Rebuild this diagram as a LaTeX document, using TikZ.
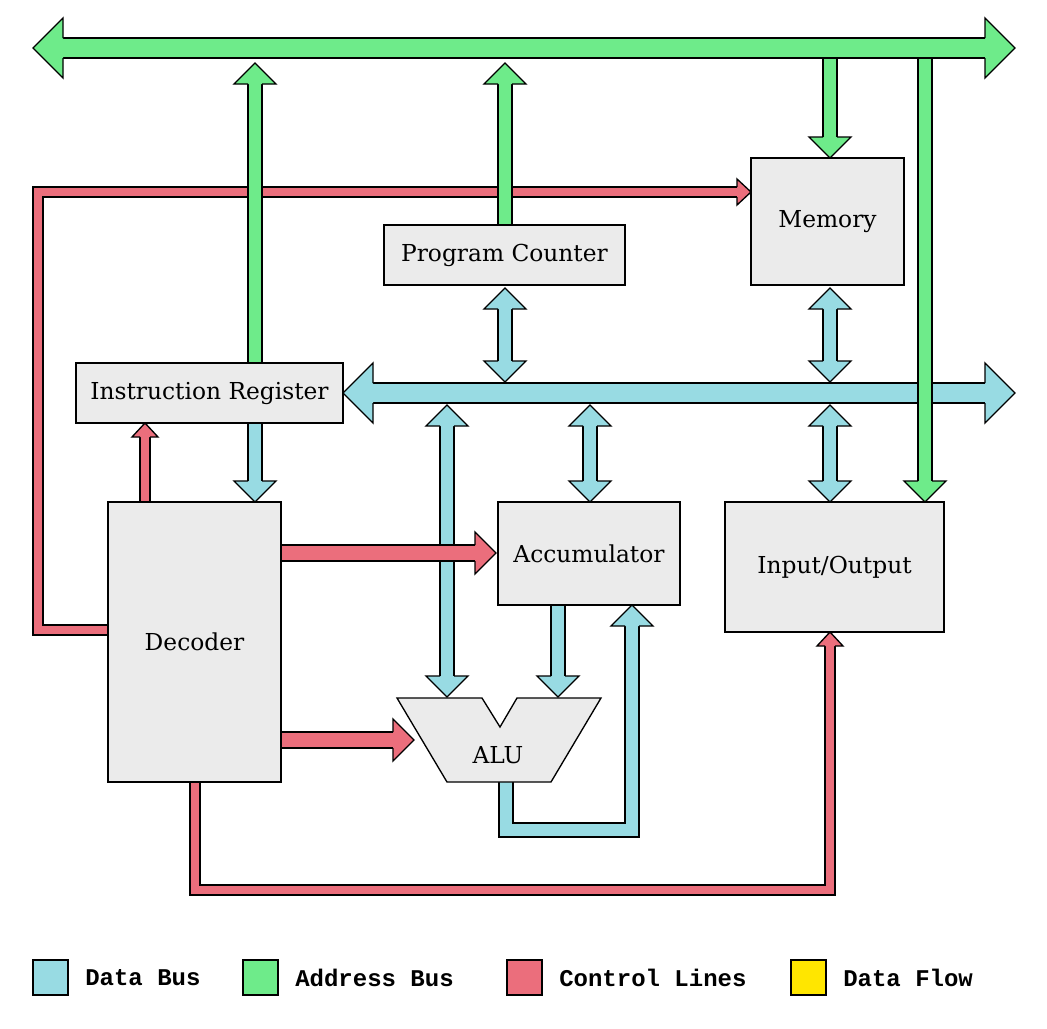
\documentclass[tikz,border=0pt]{standalone}
\usepackage{fontspec}
\setmainfont{DejaVu Serif}
\newfontfamily\legendfont{Liberation Mono}
\definecolor{gr}{HTML}{6EEB8A}
\definecolor{bl}{HTML}{98DBE3}
\definecolor{rd}{HTML}{EB6E7C}
\definecolor{gy}{HTML}{EBEBEB}
\definecolor{yl}{HTML}{FFE600}
\newcommand\shaft[3]{%
  \draw[line width={2*#2*0.75pt+1pt},black,line cap=rect,line join=miter] #3;
  \draw[line width={2*#2*0.75pt-1pt},#1,line cap=rect,line join=miter] #3;}
\newcommand\head[7]{% col, tipx, tipy, angle, w, h, L
  \begin{scope}[shift={(#2,#3)},rotate=#4]
  \fill[#1] (0,0)--(-#7,#6)--(-#7,-#6)--cycle;
  \draw[line width=1pt,line join=miter] (-#7,#5)--(-#7,#6)--(0,0)--(-#7,-#6)--(-#7,-#5);
  \end{scope}}
\tikzset{lbl/.style={font={\fontsize{17.5}{20}\selectfont}}}
\newcommand\boxnode[6]{%
  \node[draw,line width=1pt,fill=gy,inner sep=0pt,lbl,
    minimum width={(#4-#2)*0.75pt},minimum height={(#5-#3)*0.75pt}]
    (#1) at ({(#2+#4)/2},{(#3+#5)/2}) {#6};}
\begin{document}
\begin{tikzpicture}[x=0.75pt,y=-0.75pt]
\useasboundingbox[fill=white] (0,0) rectangle (1047,1029);
% red to memory
\shaft{rd}{5}{(108,630)--(38,630)--(38,192)--(737,192)}
\head{rd}{751}{192}{0}{5}{13}{14}
% green up from IR and PC
\shaft{gr}{7}{(255,363)--(255,84)}
\head{gr}{255}{63}{90}{7}{21}{21}
\shaft{gr}{7}{(505,225)--(505,84)}
\head{gr}{505}{63}{90}{7}{21}{21}
% blue bus
\shaft{bl}{10}{(373,393)--(985,393)}
\head{bl}{343}{393}{180}{10}{30}{30}
\head{bl}{1015}{393}{0}{10}{30}{30}
% green down to IO and memory
\shaft{gr}{7}{(925,48)--(925,481)}
\head{gr}{925}{502}{270}{7}{21}{21}
\shaft{gr}{7}{(830,48)--(830,137)}
\head{gr}{830}{158}{270}{7}{21}{21}
% top address bus
\shaft{gr}{10}{(63,48)--(985,48)}
\head{gr}{33}{48}{180}{10}{30}{30}
\head{gr}{1015}{48}{0}{10}{30}{30}
% blue double verticals
\shaft{bl}{7}{(505,309)--(505,361)}
\head{bl}{505}{288}{90}{7}{21}{21}
\head{bl}{505}{382}{270}{7}{21}{21}
\shaft{bl}{7}{(830,309)--(830,361)}
\head{bl}{830}{288}{90}{7}{21}{21}
\head{bl}{830}{382}{270}{7}{21}{21}
\shaft{bl}{7}{(447,426)--(447,676)}
\head{bl}{447}{405}{90}{7}{21}{21}
\head{bl}{447}{697}{270}{7}{21}{21}
\shaft{bl}{7}{(590,426)--(590,481)}
\head{bl}{590}{405}{90}{7}{21}{21}
\head{bl}{590}{502}{270}{7}{21}{21}
\shaft{bl}{7}{(830,426)--(830,481)}
\head{bl}{830}{405}{90}{7}{21}{21}
\head{bl}{830}{502}{270}{7}{21}{21}
% IR to decoder
\shaft{bl}{7}{(255,423)--(255,481)}
\head{bl}{255}{502}{270}{7}{21}{21}
% decoder to IR
\shaft{rd}{5}{(145,502)--(145,437)}
\head{rd}{145}{423}{90}{5}{13}{14}
% decoder to acc / alu
\shaft{rd}{8}{(281,553)--(475,553)}
\head{rd}{496}{553}{0}{8}{21}{21}
\shaft{rd}{8}{(281,740)--(393,740)}
\head{rd}{414}{740}{0}{8}{21}{21}
% acc to alu
\shaft{bl}{7}{(558,605)--(558,676)}
\head{bl}{558}{697}{270}{7}{21}{21}
% alu to acc
\shaft{bl}{7}{(506,782)--(506,830)--(632,830)--(632,626)}
\head{bl}{632}{605}{90}{7}{21}{21}
% decoder to IO
\shaft{rd}{5}{(195,782)--(195,890)--(830,890)--(830,646)}
\head{rd}{830}{632}{90}{5}{13}{14}
% nodes
\boxnode{mem}{751}{158}{904}{285}{Memory}
\boxnode{pc}{384}{225}{625}{285}{Program Counter}
\boxnode{ir}{76}{363}{343}{423}{Instruction Register}
\boxnode{dec}{108}{502}{281}{782}{Decoder}
\boxnode{acc}{498}{502}{680}{605}{Accumulator}
\boxnode{io}{725}{502}{944}{632}{Input/Output}
\draw[line width=1pt,fill=gy,line join=miter] (397,698)--(482,698)--(500,727)--(517,698)--(601,698)--(551,782)--(447,782)--cycle;
\node[lbl] (alu) at (498,755) {ALU};
% legend
\foreach \x/\c/\t [count=\i] in {33/bl/Data Bus,243/gr/Address Bus,507/rd/Control Lines,791/yl/Data Flow}{
  \draw[line width=1pt,fill=\c] (\x,960) rectangle ++(35,35);
  \node[anchor=west,inner sep=0pt,font=\legendfont\bfseries\fontsize{18}{21}\selectfont] (lg\i) at (\x+52,978) {\t};
}
\end{tikzpicture}
\end{document}
